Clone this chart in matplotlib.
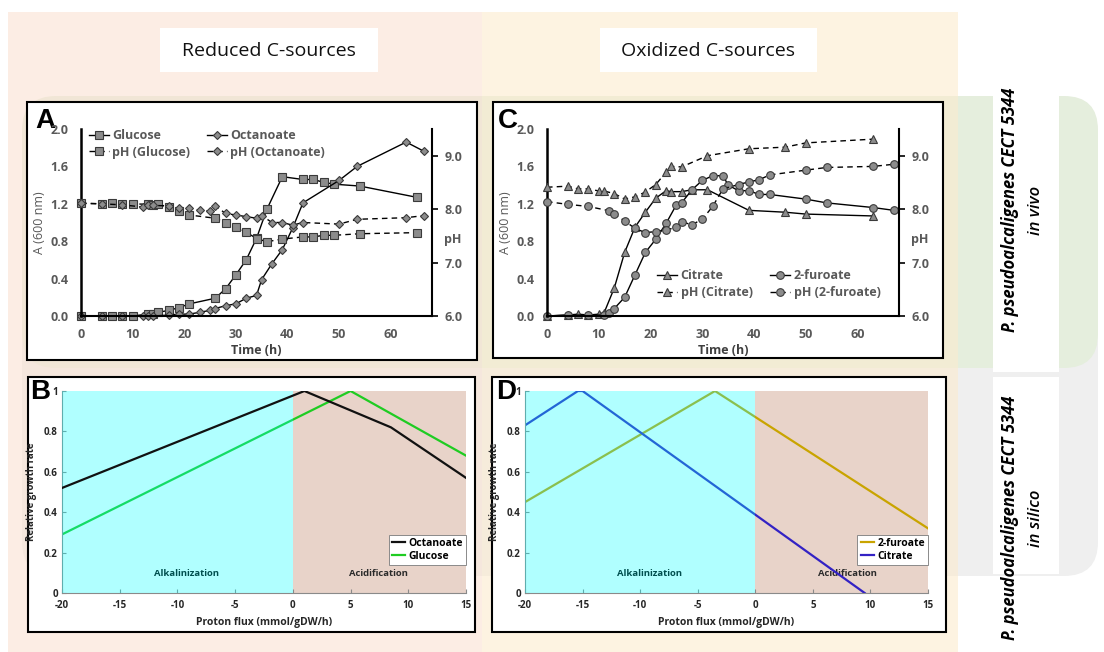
import matplotlib
matplotlib.use("Agg")
import matplotlib.pyplot as plt
from matplotlib.patches import FancyBboxPatch, Rectangle

plt.rcParams["font.family"] = ["Open Sans", "DejaVu Sans"]
plt.rcParams["axes.unicode_minus"] = False

W, H = 1104, 652

# ---- panel A: growth on reduced sources
glc_t = [0, 4, 6, 8, 10, 13, 14, 15, 17, 19, 21, 26, 28, 30, 32, 34, 36, 39, 43, 45, 47, 49, 54, 65]
glc_a = [0, 0, 0, 0, 0, 0.02, 0.02, 0.04, 0.06, 0.09, 0.13, 0.19, 0.29, 0.44, 0.60, 0.83,
         1.14, 1.49, 1.46, 1.46, 1.43, 1.41, 1.39, 1.27]
glc_ph = [8.11, 8.10, 8.11, 8.10, 8.10, 8.09, 8.08, 8.09, 8.04, 7.97, 7.89, 7.83, 7.75, 7.67,
          7.57, 7.45, 7.39, 7.44, 7.48, 7.48, 7.51, 7.51, 7.54, 7.56]

oct_t = [0, 4, 8, 12, 13, 14, 17, 19, 21, 23, 25, 26, 28, 30, 32, 34, 35, 37, 39, 41, 43, 50, 53.5, 63, 66.5]
oct_a = [0, 0, 0, 0, 0, 0, 0.01, 0.02, 0.02, 0.04, 0.06, 0.08, 0.11, 0.13, 0.19, 0.22, 0.39,
         0.56, 0.71, 0.94, 1.21, 1.45, 1.60, 1.86, 1.76]
oct_ph = [8.11, 8.10, 8.08, 8.04, 8.08, 8.07, 8.06, 8.03, 8.02, 7.98, 7.96, 8.06, 7.92, 7.89,
          7.86, 7.83, 7.88, 7.75, 7.75, 7.70, 7.75, 7.72, 7.81, 7.84, 7.88]

# ---- panel C: growth on oxidized sources
cit_t = [0, 4, 6, 8, 10, 11, 13, 15, 17, 19, 21, 23, 24, 26, 28, 31, 39, 46, 50, 63]
cit_a = [0, 0.01, 0.02, 0.01, 0.02, 0.03, 0.30, 0.68, 0.95, 1.11, 1.26, 1.34, 1.33, 1.33,
         1.35, 1.35, 1.13, 1.11, 1.09, 1.07]
cit_ph_t = [0, 4, 6, 8, 10, 11, 13, 15, 17, 19, 21, 23, 24, 26, 31, 39, 46, 50, 63]
cit_ph = [8.41, 8.43, 8.38, 8.38, 8.34, 8.34, 8.29, 8.19, 8.23, 8.32, 8.46, 8.69, 8.80, 8.79,
          9.00, 9.13, 9.16, 9.24, 9.31]

fur_t = [0, 4, 8, 11, 12, 13, 15, 17, 19, 21, 23, 25, 26, 28, 30, 32, 34, 35, 37, 39, 41, 43,
         50, 54, 63, 67]
fur_a = [0, 0.01, 0.01, 0.01, 0.03, 0.08, 0.20, 0.44, 0.68, 0.82, 0.99, 1.19, 1.21, 1.35, 1.45,
         1.50, 1.50, 1.40, 1.34, 1.34, 1.30, 1.30, 1.25, 1.21, 1.16, 1.13]
fur_ph_t = [0, 4, 8, 12, 13, 15, 17, 19, 21, 23, 25, 26, 28, 30, 32, 34, 37, 39, 41, 43, 50, 54, 63, 67]
fur_ph = [8.14, 8.09, 8.05, 7.97, 7.91, 7.78, 7.64, 7.56, 7.58, 7.61, 7.66, 7.76, 7.71, 7.81,
          8.05, 8.38, 8.46, 8.51, 8.55, 8.64, 8.73, 8.78, 8.80, 8.84]

# ---- panels B / D: in silico growth vs proton flux
flux_oct = [-20, 1, 8.5, 15]
rate_oct = [0.52, 1.0, 0.82, 0.57]
flux_glc = [-20, 5, 15]
rate_glc = [0.29, 1.0, 0.68]
flux_fur = [-20, -3.5, 15]
rate_fur = [0.45, 1.0, 0.32]
flux_cit = [-20, -15.4, -15.0, 9.5]
rate_cit = [0.83, 1.0, 1.0, 0.0]

GRAY_TXT = "#595959"
MFACE = "#8c8c8c"
MEDGE = "#3a3a3a"


def fbox(x0, y0, x1, y1):
    return [x0 / W, 1 - y1 / H, (x1 - x0) / W, (y1 - y0) / H]


fig = plt.figure(figsize=(W / 100, H / 100), dpi=100)

# background canvas in pixel coordinates
bg = fig.add_axes([0, 0, 1, 1])
bg.set_xlim(0, W)
bg.set_ylim(H, 0)
bg.axis("off")
bg.set_zorder(-10)

bg.add_patch(FancyBboxPatch((22, 312), 1076, 264, boxstyle="round,pad=0,rounding_size=34",
                            fc="#efefef", ec="none"))
bg.add_patch(FancyBboxPatch((22, 96), 1076, 272, boxstyle="round,pad=0,rounding_size=34",
                            fc="#e5eedd", ec="none"))
bg.add_patch(Rectangle((8, 12), 474, 640, fc="#fae2d2", ec="none", alpha=0.6))
bg.add_patch(Rectangle((482, 12), 476, 640, fc="#fcebce", ec="none", alpha=0.6))

for x0, y0, x1, y1 in [(160, 28, 378, 72), (600, 28, 817, 72), (993, 95, 1059, 372), (993, 377, 1059, 574)]:
    bg.add_patch(Rectangle((x0, y0), x1 - x0, y1 - y0, fc="white", ec="none"))
for x0, y0, x1, y1 in [(27, 102, 477, 360), (493, 102, 943, 358), (28, 377, 475, 632), (492, 377, 946, 632)]:
    bg.add_patch(Rectangle((x0, y0), x1 - x0, y1 - y0, fc="white", ec="black", lw=1.5))

bg.text(269, 51, "Reduced C-sources", ha="center", va="center", fontsize=14, color="#111111")
bg.text(708, 51, "Oxidized C-sources", ha="center", va="center", fontsize=14, color="#111111")

for yc, mode in [(210, "in vivo"), (518, "in silico")]:
    bg.text(1010, yc, "P. pseudoalcaligenes CECT 5344", rotation=90, ha="center", va="center",
            fontsize=12, style="italic", weight="bold")
    bg.text(1036, yc, mode, rotation=90, ha="center", va="center", fontsize=12,
            style="italic", weight="semibold")

for (px, py), letter in zip([(35, 121), (498, 121), (30, 392), (496, 392)], "ACBD"):
    bg.text(px, py, letter, ha="left", va="center", fontsize=20, weight="bold",
            family=["Liberation Sans", "DejaVu Sans"])


def growth_panel(box, series, legend_anchor, legend_loc, colspace):
    ax = fig.add_axes(fbox(*box))
    ax.set_facecolor("none")
    ax.set_xlim(0, 68)
    ax.set_ylim(0, 2.0)
    ax2 = ax.twinx()
    ax2.set_ylim(6, 9.5)
    for s in ["top", "right"]:
        ax.spines[s].set_visible(False)
    for s in ["top", "left", "bottom"]:
        ax2.spines[s].set_visible(False)
    ax.spines["left"].set_linewidth(1.8)
    ax.spines["bottom"].set_linewidth(1.5)
    ax2.spines["right"].set_linewidth(1.5)

    ax.set_xticks(range(0, 61, 10))
    ax.set_yticks([0, 0.4, 0.8, 1.2, 1.6, 2.0])
    ax.set_yticklabels([f"{v:.1f}" for v in [0, 0.4, 0.8, 1.2, 1.6, 2.0]])
    ax2.set_yticks([6, 7, 8, 9])
    ax2.set_yticklabels([f"{v:.1f}" for v in [6, 7, 8, 9]])
    ax.tick_params(length=0, labelsize=9, labelcolor=GRAY_TXT, pad=9)
    ax2.tick_params(length=4, width=1.2, direction="out", labelsize=9, labelcolor=GRAY_TXT, pad=5)
    for lab in ax.get_xticklabels() + ax.get_yticklabels() + ax2.get_yticklabels():
        lab.set_fontweight("bold")
    ax.set_xlabel("Time (h)", fontsize=9, weight="bold", color="#404040", labelpad=2)
    ax.set_ylabel("A (600 nm)", fontsize=9, color=GRAY_TXT, labelpad=3)
    ax2.text(1.06, 0.41, "pH", transform=ax2.transAxes, fontsize=9, weight="bold",
             color=GRAY_TXT, ha="center", va="center")

    handles = []
    for t, y, tph, yph, marker, ms, name in series:
        kw = dict(marker=marker, ms=ms, mfc=MFACE, mec=MEDGE, mew=0.8, color="black",
                  lw=1.0, clip_on=False)
        h1, = ax.plot(t, y, ls="-", label=name, **kw)
        h2, = ax2.plot(tph, yph, ls=(0, (4, 3)), label=f"pH ({name})", **kw)
        handles.append(h1)
        handles.append(h2)
    ax2.legend(handles=handles, loc=legend_loc, bbox_to_anchor=legend_anchor, ncol=2,
               frameon=False, handlelength=1.6, handletextpad=0.3, columnspacing=colspace,
               labelspacing=0.3, prop={"size": 9, "weight": "bold"}, labelcolor=GRAY_TXT)
    return ax


growth_panel((81, 129, 432, 316),
             [(glc_t, glc_a, glc_t, glc_ph, "s", 5.5, "Glucose"),
              (oct_t, oct_a, oct_t, oct_ph, "D", 3.8, "Octanoate")],
             (-0.01, 1.06), "upper left", 1.3)
growth_panel((547, 129, 899, 316),
             [(cit_t, cit_a, cit_ph_t, cit_ph, "^", 6, "Citrate"),
              (fur_t, fur_a, fur_ph_t, fur_ph, "o", 5.5, "2-furoate")],
             (0.28, 0.03), "lower left", 1.4)


def flux_panel(box, series, acid_x):
    ax = fig.add_axes(fbox(*box))
    ax.set_xlim(-20, 15)
    ax.set_ylim(0, 1)
    ax.axvspan(0, 15, color="#e8d3c9", lw=0, zorder=0)
    ax.text(-9.2, 0.095, "Alkalinization", ha="center", va="center", fontsize=6.8,
            weight="bold", color="black", zorder=1)
    ax.text(acid_x, 0.095, "Acidification", ha="center", va="center", fontsize=6.8,
            weight="bold", color="#2a2a2a", zorder=1)
    handles = []
    for x, y, color, z, name in series:
        h, = ax.plot(x, y, color=color, lw=1.6, zorder=z, label=name)
        handles.append(h)
    ax.axvspan(-20, 0, color="#00ffff", alpha=0.31, lw=0, zorder=3)
    for s in ["top", "right"]:
        ax.spines[s].set_visible(False)
    for s in ["left", "bottom"]:
        ax.spines[s].set_color("#8a8a8a")
        ax.spines[s].set_linewidth(0.8)
    ax.set_xticks(range(-20, 16, 5))
    ax.set_yticks([0, 0.2, 0.4, 0.6, 0.8, 1])
    ax.set_yticklabels(["0", "0.2", "0.4", "0.6", "0.8", "1"])
    ax.tick_params(direction="in", length=3, color="#8a8a8a", labelsize=7,
                   labelcolor="#262626", pad=3)
    ax.tick_params(axis="x", pad=5)
    for lab in ax.get_xticklabels() + ax.get_yticklabels():
        lab.set_fontweight("bold")
    ax.set_xlabel("Proton flux (mmol/gDW/h)", fontsize=7.5, weight="bold", color="#262626", labelpad=4)
    ax.set_ylabel("Relative growth rate", fontsize=7, weight="bold", color="#262626", labelpad=5)
    leg = ax.legend(handles=handles, loc="lower right", bbox_to_anchor=(1.0, 0.14),
                    borderaxespad=0, fancybox=False, edgecolor="#8a8a8a", framealpha=1,
                    handlelength=1.3, handletextpad=0.3, borderpad=0.3, labelspacing=0.15,
                    prop={"size": 7.5, "weight": "bold"})
    leg.set_zorder(5)
    leg.get_frame().set_linewidth(0.7)
    return ax


flux_panel((62, 391, 466, 593),
           [(flux_oct, rate_oct, "#111111", 4, "Octanoate"),
            (flux_glc, rate_glc, "#1fcc22", 2, "Glucose")], 7.4)
flux_panel((525, 391, 928, 593),
           [(flux_fur, rate_fur, "#c9a400", 2, "2-furoate"),
            (flux_cit, rate_cit, "#3322c4", 2, "Citrate")], 8.0)

fig.savefig("out.png", dpi=100)
